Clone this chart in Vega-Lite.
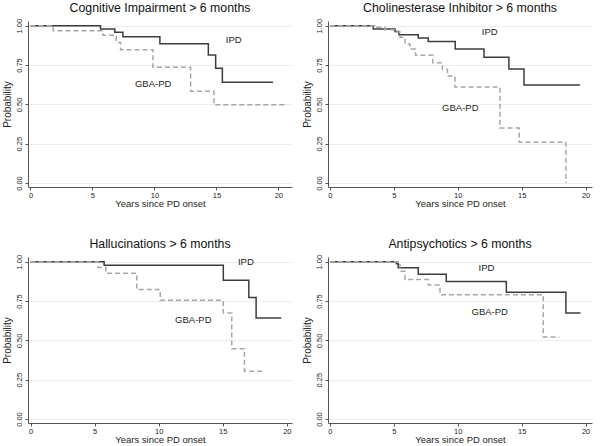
{
  "$schema": "https://vega.github.io/schema/vega-lite/v6.json",
  "background": "white",
  "padding": {"left": 2, "top": 2, "right": 2, "bottom": 2},
  "config": {
    "font": "Liberation Sans",
    "view": {"stroke": null},
    "title": {"fontSize": 12.3, "fontWeight": "normal", "color": "#111", "offset": 4, "font": "Liberation Sans"},
    "axis": {
      "domainColor": "#555", "tickColor": "#555", "tickSize": 3, "labelColor": "#222", "titleColor": "#222",
      "labelFontSize": 7.5, "titleFontSize": 10, "titleFontWeight": "normal", "labelPadding": 2
    },
    "axisX": {"titleFontSize": 9.5, "titlePadding": 0, "labelPadding": 1}
  },
  "datasets": {
    "km": [
      {"panel": "A", "group": "IPD", "t": 0, "s": 1},
      {"panel": "A", "group": "IPD", "t": 5.65, "s": 0.979},
      {"panel": "A", "group": "IPD", "t": 6.8, "s": 0.958},
      {"panel": "A", "group": "IPD", "t": 7.46, "s": 0.93},
      {"panel": "A", "group": "IPD", "t": 10.44, "s": 0.886},
      {"panel": "A", "group": "IPD", "t": 14.35, "s": 0.814},
      {"panel": "A", "group": "IPD", "t": 14.94, "s": 0.73},
      {"panel": "A", "group": "IPD", "t": 15.48, "s": 0.64},
      {"panel": "A", "group": "IPD", "t": 19.57, "s": 0.64},
      {"panel": "A", "group": "GBA-PD", "t": 0, "s": 1},
      {"panel": "A", "group": "GBA-PD", "t": 1.83, "s": 0.968},
      {"panel": "A", "group": "GBA-PD", "t": 5.84, "s": 0.94},
      {"panel": "A", "group": "GBA-PD", "t": 6.92, "s": 0.894},
      {"panel": "A", "group": "GBA-PD", "t": 7.27, "s": 0.848},
      {"panel": "A", "group": "GBA-PD", "t": 9.88, "s": 0.736},
      {"panel": "A", "group": "GBA-PD", "t": 12.92, "s": 0.584},
      {"panel": "A", "group": "GBA-PD", "t": 14.8, "s": 0.497},
      {"panel": "A", "group": "GBA-PD", "t": 20.7, "s": 0.497},
      {"panel": "B", "group": "IPD", "t": 0, "s": 1},
      {"panel": "B", "group": "IPD", "t": 3.39, "s": 0.979},
      {"panel": "B", "group": "IPD", "t": 5.09, "s": 0.964},
      {"panel": "B", "group": "IPD", "t": 5.4, "s": 0.943},
      {"panel": "B", "group": "IPD", "t": 6.91, "s": 0.922},
      {"panel": "B", "group": "IPD", "t": 7.69, "s": 0.899},
      {"panel": "B", "group": "IPD", "t": 9.8, "s": 0.852},
      {"panel": "B", "group": "IPD", "t": 12.05, "s": 0.8},
      {"panel": "B", "group": "IPD", "t": 14.0, "s": 0.725},
      {"panel": "B", "group": "IPD", "t": 15.18, "s": 0.624},
      {"panel": "B", "group": "IPD", "t": 19.56, "s": 0.624},
      {"panel": "B", "group": "GBA-PD", "t": 0, "s": 1},
      {"panel": "B", "group": "GBA-PD", "t": 3.5, "s": 0.99},
      {"panel": "B", "group": "GBA-PD", "t": 4.3, "s": 0.975},
      {"panel": "B", "group": "GBA-PD", "t": 5.0, "s": 0.96},
      {"panel": "B", "group": "GBA-PD", "t": 5.48, "s": 0.926},
      {"panel": "B", "group": "GBA-PD", "t": 5.87, "s": 0.884},
      {"panel": "B", "group": "GBA-PD", "t": 6.26, "s": 0.852},
      {"panel": "B", "group": "GBA-PD", "t": 6.7, "s": 0.812},
      {"panel": "B", "group": "GBA-PD", "t": 8.05, "s": 0.764},
      {"panel": "B", "group": "GBA-PD", "t": 8.8, "s": 0.722},
      {"panel": "B", "group": "GBA-PD", "t": 9.2, "s": 0.68},
      {"panel": "B", "group": "GBA-PD", "t": 9.78, "s": 0.61},
      {"panel": "B", "group": "GBA-PD", "t": 13.3, "s": 0.35},
      {"panel": "B", "group": "GBA-PD", "t": 14.81, "s": 0.26},
      {"panel": "B", "group": "GBA-PD", "t": 18.46, "s": 0.0},
      {"panel": "C", "group": "IPD", "t": 0, "s": 1},
      {"panel": "C", "group": "IPD", "t": 5.74, "s": 0.977},
      {"panel": "C", "group": "IPD", "t": 15.04, "s": 0.883},
      {"panel": "C", "group": "IPD", "t": 17.03, "s": 0.772},
      {"panel": "C", "group": "IPD", "t": 17.6, "s": 0.643},
      {"panel": "C", "group": "IPD", "t": 19.56, "s": 0.643},
      {"panel": "C", "group": "GBA-PD", "t": 0, "s": 1},
      {"panel": "C", "group": "GBA-PD", "t": 5.27, "s": 0.964},
      {"panel": "C", "group": "GBA-PD", "t": 5.87, "s": 0.926},
      {"panel": "C", "group": "GBA-PD", "t": 8.29, "s": 0.823},
      {"panel": "C", "group": "GBA-PD", "t": 10.12, "s": 0.755},
      {"panel": "C", "group": "GBA-PD", "t": 15.04, "s": 0.674},
      {"panel": "C", "group": "GBA-PD", "t": 15.7, "s": 0.447},
      {"panel": "C", "group": "GBA-PD", "t": 16.69, "s": 0.304},
      {"panel": "C", "group": "GBA-PD", "t": 18.12, "s": 0.304},
      {"panel": "D", "group": "IPD", "t": 0, "s": 1},
      {"panel": "D", "group": "IPD", "t": 5.21, "s": 0.987},
      {"panel": "D", "group": "IPD", "t": 5.34, "s": 0.962},
      {"panel": "D", "group": "IPD", "t": 6.91, "s": 0.921},
      {"panel": "D", "group": "IPD", "t": 9.1, "s": 0.874},
      {"panel": "D", "group": "IPD", "t": 13.8, "s": 0.806},
      {"panel": "D", "group": "IPD", "t": 18.46, "s": 0.674},
      {"panel": "D", "group": "IPD", "t": 19.6, "s": 0.674},
      {"panel": "D", "group": "GBA-PD", "t": 0, "s": 1},
      {"panel": "D", "group": "GBA-PD", "t": 5.48, "s": 0.94},
      {"panel": "D", "group": "GBA-PD", "t": 5.87, "s": 0.887},
      {"panel": "D", "group": "GBA-PD", "t": 7.7, "s": 0.852},
      {"panel": "D", "group": "GBA-PD", "t": 8.61, "s": 0.79},
      {"panel": "D", "group": "GBA-PD", "t": 16.69, "s": 0.521},
      {"panel": "D", "group": "GBA-PD", "t": 17.94, "s": 0.521}
    ],
    "labels": [
      {"panel": "A", "label": "IPD", "t": 16.4, "s": 0.909},
      {"panel": "A", "label": "GBA-PD", "t": 9.9, "s": 0.63},
      {"panel": "B", "label": "IPD", "t": 12.5, "s": 0.958},
      {"panel": "B", "label": "GBA-PD", "t": 10.2, "s": 0.478},
      {"panel": "C", "label": "IPD", "t": 16.8, "s": 1.0},
      {"panel": "C", "label": "GBA-PD", "t": 12.7, "s": 0.628},
      {"panel": "D", "label": "IPD", "t": 12.25, "s": 0.957},
      {"panel": "D", "label": "GBA-PD", "t": 12.5, "s": 0.68}
    ]
  },
  "columns": 2,
  "bounds": "flush",
  "spacing": {"row": 70, "column": 36},
  "concat": [
    {
      "title": "Cognitive Impairment > 6 months",
      "width": 264, "height": 166,
      "layer": [
        {
          "data": {"name": "km"},
          "transform": [{"filter": "datum.panel === 'A'"}],
          "mark": {"type": "line", "interpolate": "step-after", "strokeWidth": 1.5},
          "encoding": {
            "x": {"field": "t", "type": "quantitative", "scale": {"domain": [-0.2, 21.1], "nice": false, "zero": false},
                  "axis": {"values": [0, 5, 10, 15, 20], "grid": false, "title": "Years since PD onset"}},
            "y": {"field": "s", "type": "quantitative", "scale": {"domain": [-0.025, 1.03], "nice": false, "zero": false},
                  "axis": {"values": [0, 0.25, 0.5, 0.75, 1], "format": ".2f", "grid": true, "gridColor": "#ececec", "labelAngle": -90, "labelAlign": "center", "labelBaseline": "bottom", "title": "Probability", "titlePadding": 3}},
            "color": {"field": "group", "type": "nominal", "scale": {"domain": ["IPD", "GBA-PD"], "range": ["#3c3c3c", "#a6a6a6"]}, "legend": null},
            "strokeDash": {"field": "group", "type": "nominal", "scale": {"domain": ["IPD", "GBA-PD"], "range": [[1, 0], [5, 3]]}, "legend": null}
          }
        },
        {
          "data": {"name": "labels"},
          "transform": [{"filter": "datum.panel === 'A'"}],
          "mark": {"type": "text", "fontSize": 9.5, "color": "#222"},
          "encoding": {
            "x": {"field": "t", "type": "quantitative"},
            "y": {"field": "s", "type": "quantitative"},
            "text": {"field": "label"}
          }
        }
      ]
    },
    {
      "title": "Cholinesterase Inhibitor > 6 months",
      "width": 264, "height": 166,
      "layer": [
        {
          "data": {"name": "km"},
          "transform": [{"filter": "datum.panel === 'B'"}],
          "mark": {"type": "line", "interpolate": "step-after", "strokeWidth": 1.5},
          "encoding": {
            "x": {"field": "t", "type": "quantitative", "scale": {"domain": [-0.15, 20.5], "nice": false, "zero": false},
                  "axis": {"values": [0, 5, 10, 15, 20], "grid": false, "title": "Years since PD onset"}},
            "y": {"field": "s", "type": "quantitative", "scale": {"domain": [-0.025, 1.03], "nice": false, "zero": false},
                  "axis": {"values": [0, 0.25, 0.5, 0.75, 1], "format": ".2f", "grid": true, "gridColor": "#ececec", "labelAngle": -90, "labelAlign": "center", "labelBaseline": "bottom", "title": "Probability", "titlePadding": 3}},
            "color": {"field": "group", "type": "nominal", "scale": {"domain": ["IPD", "GBA-PD"], "range": ["#3c3c3c", "#a6a6a6"]}, "legend": null},
            "strokeDash": {"field": "group", "type": "nominal", "scale": {"domain": ["IPD", "GBA-PD"], "range": [[1, 0], [5, 3]]}, "legend": null}
          }
        },
        {
          "data": {"name": "labels"},
          "transform": [{"filter": "datum.panel === 'B'"}],
          "mark": {"type": "text", "fontSize": 9.5, "color": "#222"},
          "encoding": {
            "x": {"field": "t", "type": "quantitative"},
            "y": {"field": "s", "type": "quantitative"},
            "text": {"field": "label"}
          }
        }
      ]
    },
    {
      "title": "Hallucinations > 6 months",
      "width": 264, "height": 166,
      "layer": [
        {
          "data": {"name": "km"},
          "transform": [{"filter": "datum.panel === 'C'"}],
          "mark": {"type": "line", "interpolate": "step-after", "strokeWidth": 1.5},
          "encoding": {
            "x": {"field": "t", "type": "quantitative", "scale": {"domain": [-0.2, 20.4], "nice": false, "zero": false},
                  "axis": {"values": [0, 5, 10, 15, 20], "grid": false, "title": "Years since PD onset"}},
            "y": {"field": "s", "type": "quantitative", "scale": {"domain": [-0.025, 1.03], "nice": false, "zero": false},
                  "axis": {"values": [0, 0.25, 0.5, 0.75, 1], "format": ".2f", "grid": true, "gridColor": "#ececec", "labelAngle": -90, "labelAlign": "center", "labelBaseline": "bottom", "title": "Probability", "titlePadding": 3}},
            "color": {"field": "group", "type": "nominal", "scale": {"domain": ["IPD", "GBA-PD"], "range": ["#3c3c3c", "#a6a6a6"]}, "legend": null},
            "strokeDash": {"field": "group", "type": "nominal", "scale": {"domain": ["IPD", "GBA-PD"], "range": [[1, 0], [5, 3]]}, "legend": null}
          }
        },
        {
          "data": {"name": "labels"},
          "transform": [{"filter": "datum.panel === 'C'"}],
          "mark": {"type": "text", "fontSize": 9.5, "color": "#222"},
          "encoding": {
            "x": {"field": "t", "type": "quantitative"},
            "y": {"field": "s", "type": "quantitative"},
            "text": {"field": "label"}
          }
        }
      ]
    },
    {
      "title": "Antipsychotics > 6 months",
      "width": 264, "height": 166,
      "layer": [
        {
          "data": {"name": "km"},
          "transform": [{"filter": "datum.panel === 'D'"}],
          "mark": {"type": "line", "interpolate": "step-after", "strokeWidth": 1.5},
          "encoding": {
            "x": {"field": "t", "type": "quantitative", "scale": {"domain": [-0.15, 20.5], "nice": false, "zero": false},
                  "axis": {"values": [0, 5, 10, 15, 20], "grid": false, "title": "Years since PD onset"}},
            "y": {"field": "s", "type": "quantitative", "scale": {"domain": [-0.025, 1.03], "nice": false, "zero": false},
                  "axis": {"values": [0, 0.25, 0.5, 0.75, 1], "format": ".2f", "grid": true, "gridColor": "#ececec", "labelAngle": -90, "labelAlign": "center", "labelBaseline": "bottom", "title": "Probability", "titlePadding": 3}},
            "color": {"field": "group", "type": "nominal", "scale": {"domain": ["IPD", "GBA-PD"], "range": ["#3c3c3c", "#a6a6a6"]}, "legend": null},
            "strokeDash": {"field": "group", "type": "nominal", "scale": {"domain": ["IPD", "GBA-PD"], "range": [[1, 0], [5, 3]]}, "legend": null}
          }
        },
        {
          "data": {"name": "labels"},
          "transform": [{"filter": "datum.panel === 'D'"}],
          "mark": {"type": "text", "fontSize": 9.5, "color": "#222"},
          "encoding": {
            "x": {"field": "t", "type": "quantitative"},
            "y": {"field": "s", "type": "quantitative"},
            "text": {"field": "label"}
          }
        }
      ]
    }
  ]
}
